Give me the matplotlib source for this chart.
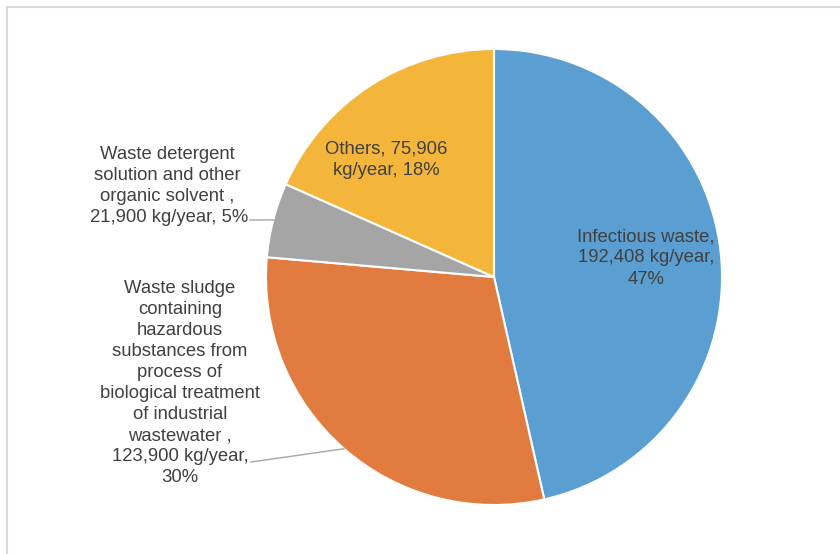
import numpy as np
import matplotlib.pyplot as plt
from matplotlib import patches

plt.rcParams['font.family'] = ['Liberation Sans', 'DejaVu Sans']

# data
categories = ["Infectious waste",
              "Waste sludge containing hazardous substances",
              "Waste detergent solution and other organic solvent",
              "Others"]
values = [192408, 123900, 21900, 75906]
labels = ["Infectious waste,\n192,408 kg/year,\n47%",
          "Waste sludge\ncontaining\nhazardous\nsubstances from\nprocess of\nbiological treatment\nof industrial\nwastewater ,\n123,900 kg/year,\n30%",
          "Waste detergent\nsolution and other\norganic solvent ,\n 21,900 kg/year, 5%",
          "Others, 75,906\nkg/year, 18%"]
colors = ["#5B9FD2", "#E27B3F", "#A5A5A5", "#F3B63B"]

W, H = 840, 554
cx, cy, r = 494, 277, 228

fig = plt.figure(figsize=(W / 100, H / 100), dpi=100)
fig.patch.set_facecolor("white")
# light frame around the chart area
fig.patches.append(patches.Rectangle((7 / W, -0.01), 1.0, 1 - 7 / H + 0.01,
                                     transform=fig.transFigure, fill=False,
                                     edgecolor="#D9D9D9", linewidth=1.5))

ax = fig.add_axes([(cx - r) / W, (H - cy - r) / H, 2 * r / W, 2 * r / H])
wedges, _ = ax.pie(values, colors=colors, startangle=90, counterclock=False,
                   radius=1, wedgeprops=dict(edgecolor="white", linewidth=1.5))
ax.set_xlim(-1, 1)
ax.set_ylim(-1, 1)
ax.set_aspect("equal")
ax.axis("off")


def px(x, y):
    # pixel position -> data coords of the pie axes
    return (x - cx) / r, (cy - y) / r


txt = dict(fontsize=13.3, color="#404040", ha="center", va="center",
           multialignment="center", linespacing=1.31)

# inside labels
ax.text(*px(646, 258), labels[0], **txt)
ax.text(*px(386, 160), labels[3], **txt)

# outside labels with leader lines to wedge mid-angle
ax.text(*px(167, 186), labels[2], **txt)
ax.text(*px(180, 383), labels[1], **txt)

for idx, start in [(2, (250, 220)), (1, (251, 462))]:
    w = wedges[idx]
    mid = np.deg2rad((w.theta1 + w.theta2) / 2)
    x0, y0 = px(*start)
    ax.plot([x0, np.cos(mid)], [y0, np.sin(mid)], color="#A6A6A6",
            linewidth=1, clip_on=False)

fig.savefig("out.png", dpi=100)
